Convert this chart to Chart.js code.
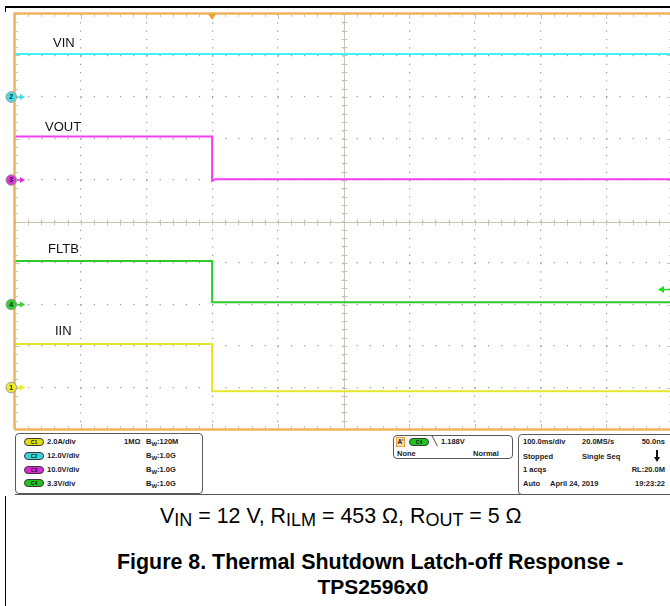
<!DOCTYPE html>
<html><head><meta charset="utf-8">
<script src="https://cdn.jsdelivr.net/npm/chart.js@4.4.1/dist/chart.umd.min.js"></script>
<style>
html,body{margin:0;padding:0;width:670px;height:606px;overflow:hidden;background:#fff;font-family:"Liberation Sans",Arial,sans-serif;position:relative;}
#wrap{position:absolute;left:0;top:0;width:680px;height:432px;}
.a{position:absolute;white-space:nowrap;line-height:1;}
.p{font-weight:bold;font-size:7.5px;color:#1b1b1b;}
.box{position:absolute;border:1px solid #5a5a5a;border-radius:4px;background:#fff;}
.pill{position:absolute;width:18px;height:6px;border:1px solid #3a3a3a;border-radius:5px;font-size:5px;font-weight:bold;text-align:center;line-height:6px;color:#111;}
.lbl{font-size:13px;color:#111;}
sub.bw{font-size:6px;vertical-align:-2px;}
.cap sub{font-size:18px;vertical-align:-3px;line-height:0;}
</style></head><body>
<div class="a" style="left:5px;top:6px;width:665px;height:2px;background:#000"></div>
<div class="a" style="left:5px;top:6px;width:1px;height:6px;background:#000"></div>
<div class="a" style="left:5px;top:496px;width:1px;height:110px;background:#000"></div>
<div class="a" style="left:15px;top:494px;width:655px;height:1px;background:#555"></div>
<div id="wrap"><canvas id="c" width="680" height="432"></canvas></div>

<div class="a lbl" style="left:53px;top:36px">VIN</div>
<div class="a lbl" style="left:45px;top:120px">VOUT</div>
<div class="a lbl" style="left:48px;top:242px">FLTB</div>
<div class="a lbl" style="left:55px;top:324px">IIN</div>

<div class="box" style="left:15px;top:433px;width:186px;height:59px"></div>
<div class="pill" style="left:24px;top:438px;background:#e2dc10">C1</div>
<div class="pill" style="left:24px;top:452px;background:#36d6dc">C2</div>
<div class="pill" style="left:24px;top:466px;background:#d82ad8">C3</div>
<div class="pill" style="left:24px;top:479px;background:#22c422">C4</div>
<div class="a p" style="left:47px;top:438px">2.0A/div</div>
<div class="a p" style="left:47px;top:452px">12.0V/div</div>
<div class="a p" style="left:47px;top:466px">10.0V/div</div>
<div class="a p" style="left:47px;top:480px">3.3V/div</div>
<div class="a p" style="left:124px;top:438px">1MΩ</div>
<div class="a p" style="left:146px;top:438px">B<sub class="bw">W</sub>:120M</div>
<div class="a p" style="left:146px;top:452px">B<sub class="bw">W</sub>:1.0G</div>
<div class="a p" style="left:146px;top:466px">B<sub class="bw">W</sub>:1.0G</div>
<div class="a p" style="left:146px;top:480px">B<sub class="bw">W</sub>:1.0G</div>

<div class="box" style="left:393px;top:435px;width:118px;height:22px"></div>
<div class="a p" style="left:396px;top:437px;width:7px;height:8px;border:1px solid #f0a030;background:#f3e0c0;font-size:6.5px;text-align:center;line-height:8px">A'</div>
<div class="pill" style="left:409px;top:438px;background:#22c422">C4</div>
<div class="a p" style="left:432px;top:437px;font-size:9px;font-weight:normal">&#x2572;</div>
<div class="a p" style="left:441px;top:438px">1.188V</div>
<div class="a p" style="left:397px;top:450px">None</div>
<div class="a p" style="left:473px;top:450px">Normal</div>

<div class="box" style="left:518px;top:434px;width:160px;height:59px"></div>
<div class="a p" style="left:523px;top:438px">100.0ms/div</div>
<div class="a p" style="left:582px;top:438px">20.0MS/s</div>
<div class="a p" style="left:600px;top:438px;width:65px;text-align:right">50.0ns</div>
<div class="a p" style="left:523px;top:453px">Stopped</div>
<div class="a p" style="left:582px;top:453px">Single Seq</div>
<div class="a" style="left:656px;top:450px;width:2px;height:8px;background:#111"></div>
<div class="a" style="left:654px;top:457px;width:0;height:0;border-left:3px solid transparent;border-right:3px solid transparent;border-top:5px solid #111"></div>
<div class="a p" style="left:523px;top:466px">1 acqs</div>
<div class="a p" style="left:600px;top:466px;width:65px;text-align:right">RL:20.0M</div>
<div class="a p" style="left:523px;top:480px">Auto</div>
<div class="a p" style="left:550px;top:480px">April 24, 2019</div>
<div class="a p" style="left:600px;top:480px;width:65px;text-align:right">19:23:22</div>

<div class="a cap" style="left:160px;top:506px;font-size:21.4px;color:#000">V<sub>IN</sub> = 12 V, R<sub>ILM</sub> = 453 Ω, R<sub>OUT</sub> = 5 Ω</div>
<div class="a" style="left:117px;top:552px;font-size:21.4px;font-weight:bold;color:#000">Figure 8. Thermal Shutdown Latch-off Response -</div>
<div class="a" style="left:173px;width:400px;text-align:center;top:576px;font-size:21px;font-weight:bold;color:#000">TPS2596x0</div>

<script>
// ---- data (read from the scope capture) ----
const channelNumbers = [1, 2, 3, 4];
const channelNames   = ['IIN', 'VIN', 'VOUT', 'FLTB'];
const unitsPerDiv    = [2.0, 12.0, 10.0, 3.3];   // A/div, V/div
const groundDiv      = [1, 8, 6, 3];             // ground marker position (divisions from bottom)
const timePerDiv     = 100;                      // ms/div
const timeStart      = -300;                     // ms (trigger at 0)
const timeEnd        = 700;
const triggerLevel   = 1.188;                    // V on C4

const vinTime   = [-300, 700];
const vinVolts  = [12.4, 12.4];
const voutTime  = [-300, 0, 0, 5, 700];
const voutVolts = [10.5, 10.5, -0.2, 0.2, 0.2];
const fltbTime  = [-300, 0, 0, 700];
const fltbVolts = [3.46, 3.46, 0.17, 0.17];
const iinTime   = [-300, 0, 0, 700];
const iinAmps   = [2.1, 2.1, -0.18, -0.18];

const colors = ['#e6e628', '#3ef4f4', '#f43ef4', '#2ccc2c'];
const markerFill = ['#f2ea20', '#3ee0ea', '#e030e0', '#30d030'];

function toDiv(times, vals, ch){
  return times.map((t,i)=>({x:t, y: groundDiv[ch] + vals[i]/unitsPerDiv[ch]}));
}

const datasets = [
  {label:'VIN',  data: toDiv(vinTime, vinVolts, 1),  borderColor: colors[1]},
  {label:'VOUT', data: toDiv(voutTime, voutVolts, 2), borderColor: colors[2]},
  {label:'FLTB', data: toDiv(fltbTime, fltbVolts, 3), borderColor: colors[3]},
  {label:'IIN',  data: toDiv(iinTime, iinAmps, 0),   borderColor: colors[0]},
].map(d=>Object.assign(d,{borderWidth:2, pointRadius:0, tension:0, fill:false}));

const graticule = {
  id:'graticule',
  beforeDatasetsDraw(chart){
    const {ctx, chartArea:a, scales:{x,y}} = chart;
    ctx.save();
    ctx.strokeStyle = '#cbc4b3'; ctx.lineWidth = 1;
    const cx = Math.round(x.getPixelForValue((x.min+x.max)/2))+0.5;
    const cy = Math.round(y.getPixelForValue((y.min+y.max)/2))+0.5;
    ctx.beginPath();
    ctx.moveTo(cx, a.top); ctx.lineTo(cx, a.bottom);
    ctx.moveTo(a.left, cy); ctx.lineTo(a.right, cy);
    const xs = timePerDiv/5;
    for(let k=0; k<=50; k++){
      const t = x.min + k*xs;
      const px = Math.round(x.getPixelForValue(t))+0.5;
      const L = (k%5===0)?5:3;
      ctx.moveTo(px, a.top); ctx.lineTo(px, a.top+L);
      ctx.moveTo(px, a.bottom); ctx.lineTo(px, a.bottom-L);
      ctx.moveTo(px, cy-3); ctx.lineTo(px, cy+3);
    }
    for(let k=0; k<=50; k++){
      const v = y.min + k*0.2;
      const py = Math.round(y.getPixelForValue(v))+0.5;
      const L = (k%5===0)?5:3;
      ctx.moveTo(a.left, py); ctx.lineTo(a.left+L, py);
      ctx.moveTo(a.right, py); ctx.lineTo(a.right-L, py);
      ctx.moveTo(cx-3, py); ctx.lineTo(cx+3, py);
    }
    ctx.stroke();
    ctx.restore();
  },
  afterDatasetsDraw(chart){
    const {ctx, chartArea:a, scales:{x,y}} = chart;
    ctx.save();
    // orange frame
    ctx.strokeStyle = '#f0b45c'; ctx.lineWidth = 2.5;
    ctx.beginPath();
    ctx.moveTo(a.left-0.5, a.bottom+0.5); ctx.lineTo(a.left-0.5, a.top-0.5); ctx.lineTo(a.right+1, a.top-0.5);
    ctx.moveTo(a.left-0.5, a.bottom+0.5); ctx.lineTo(a.right+1, a.bottom+0.5);
    ctx.stroke();
    // trigger position marker
    const tx = x.getPixelForValue(0);
    ctx.fillStyle = '#f0a028';
    ctx.beginPath(); ctx.moveTo(tx-4, a.top); ctx.lineTo(tx+4, a.top); ctx.lineTo(tx, a.top+6); ctx.closePath(); ctx.fill();
    // trigger level arrow (C4)
    const ty = y.getPixelForValue(groundDiv[3] + triggerLevel/unitsPerDiv[3]);
    ctx.fillStyle = '#22e022'; ctx.strokeStyle = '#22e022'; ctx.lineWidth = 1.5;
    ctx.beginPath(); ctx.moveTo(a.right-9, ty); ctx.lineTo(a.right, ty); ctx.stroke();
    ctx.beginPath(); ctx.moveTo(a.right-14, ty); ctx.lineTo(a.right-8, ty-3.5); ctx.lineTo(a.right-8, ty+3.5); ctx.closePath(); ctx.fill();
    // ground markers
    for(let i=0;i<4;i++){
      const py = y.getPixelForValue(groundDiv[i]);
      const mx = a.left-3.7;
      ctx.strokeStyle = markerFill[i]; ctx.fillStyle = markerFill[i]; ctx.lineWidth = 1.5;
      ctx.beginPath(); ctx.moveTo(mx+4, py); ctx.lineTo(a.left+7, py); ctx.stroke();
      ctx.beginPath(); ctx.moveTo(a.left+10, py); ctx.lineTo(a.left+5, py-3); ctx.lineTo(a.left+5, py+3); ctx.closePath(); ctx.fill();
      ctx.beginPath(); ctx.arc(mx, py, 5.3, 0, Math.PI*2);
      ctx.fillStyle = markerFill[i]; ctx.fill();
      ctx.strokeStyle = '#9a9a9a'; ctx.lineWidth = 1; ctx.stroke();
      ctx.fillStyle = '#222'; ctx.font = 'bold 7px "Liberation Sans", Arial';
      ctx.textAlign = 'center'; ctx.textBaseline = 'middle';
      ctx.fillText(String(channelNumbers[i]), mx, py+0.5);
    }
    ctx.restore();
  }
};

new Chart(document.getElementById('c'), {
  type:'line',
  data:{datasets},
  plugins:[graticule],
  options:{
    responsive:false, animation:false, devicePixelRatio:1,
    layout:{padding:{left:15, top:14, right:8, bottom:3}},
    plugins:{legend:{display:false}, tooltip:{enabled:false}},
    scales:{
      x:{type:'linear', min:timeStart, max:timeEnd,
         ticks:{display:false, stepSize:timePerDiv},
         grid:{color:'#9a9a9a', lineWidth:1.2, drawTicks:false},
         border:{display:false, dash:[1.2,7.1]}},
      y:{type:'linear', min:0, max:10,
         ticks:{display:false, stepSize:1},
         grid:{color:'#9a9a9a', lineWidth:1.2, drawTicks:false},
         border:{display:false, dash:[1.2,11.94]}}
    }
  }
});
</script>
</body></html>
